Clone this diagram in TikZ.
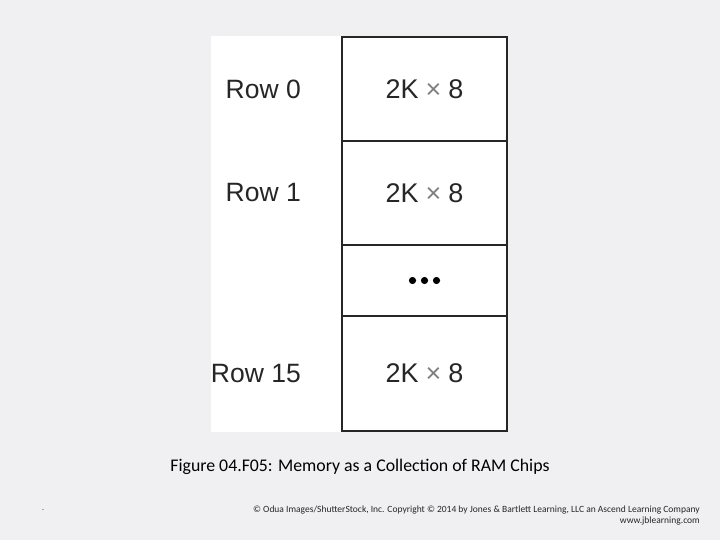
\documentclass[tikz,border=0pt]{standalone}
\usepackage{fontspec}
\setmainfont{Liberation Sans}
\newfontfamily\capfont{Carlito}
\usetikzlibrary{positioning}
\definecolor{slidebg}{HTML}{F0F0F2}
\definecolor{inkgray}{HTML}{262626}
\newcommand{\chiptext}{2K\hspace{7pt}{\color{gray}×}\hspace{7pt}8}

\begin{document}
\begin{tikzpicture}[x=1pt,y=-1pt]
	\tikzstyle{chipbox}=[draw=inkgray,line width=1.2pt,fill=white,minimum width=165pt,inner sep=0pt,outer sep=0pt,font=\fontsize{27}{27}\selectfont,text=inkgray]
	\tikzstyle{rowlabel}=[anchor=east,inner sep=0pt,font=\fontsize{26.5}{26.5}\selectfont,text=inkgray]
	\fill [slidebg] (0,0) rectangle (720,540);
	\useasboundingbox (0,0) rectangle (720,540);
	\fill [white] (211,36) rectangle (508,432);
	% chips
	\node [chipbox,minimum height=104pt] (chip0) at (424.5,89) {\chiptext};
	\node [chipbox,minimum height=104pt,below=0pt of chip0] (chip1) {\chiptext};
	\node [chipbox,minimum height=71pt,below=0pt of chip1] (dots) {};
	\node [chipbox,minimum height=115pt,below=0pt of dots] (chip15) {\chiptext};
	\fill [black] (dots.center) circle (3.6) ++(-12,0) circle (3.6) ++(24,0) circle (3.6);
	% row labels
	\coordinate (labelx) at (301,0);
	\node [rowlabel] (row0) at (labelx |- chip0) {Row 0};
	\node [rowlabel] (row1) at (labelx |- chip1) {Row 1};
	\node [rowlabel] (row15) at (labelx |- chip15) {Row 15};
	% caption and footer
	\node [font=\capfont\fontsize{17.8}{17.8}\selectfont] (caption) at (360,467) {Figure 04.F05: Memory as a Collection of RAM Chips};
	\node [font=\capfont\fontsize{6}{6}\selectfont] (dash) at (43,511) {-};
	\node [anchor=east,inner sep=0pt,font=\capfont\fontsize{9.5}{9.5}\selectfont,text=inkgray] (credit) at (700,510) {© Odua Images/ShutterStock, Inc. Copyright © 2014 by Jones \& Bartlett Learning, LLC an Ascend Learning Company};
	\node [anchor=east,inner sep=0pt,font=\capfont\fontsize{9.5}{9.5}\selectfont,text=inkgray] (site) at (700,521) {www.jblearning.com};
\end{tikzpicture}
\end{document}
